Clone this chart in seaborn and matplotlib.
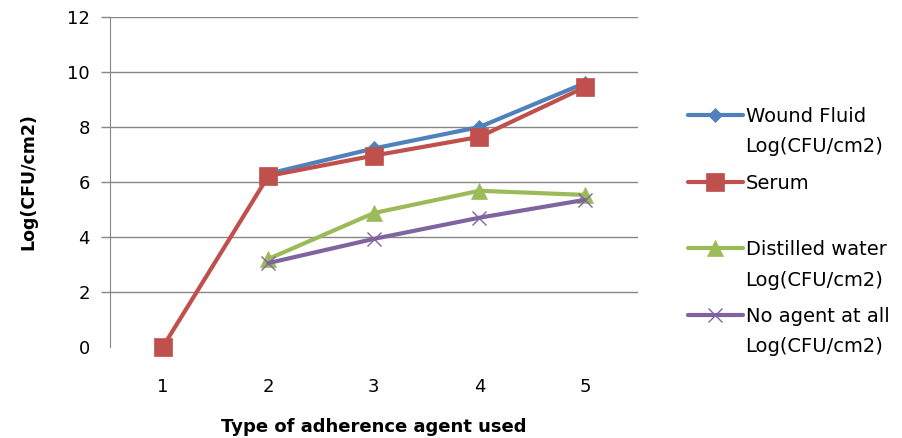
import numpy as np
import pandas as pd
import matplotlib
matplotlib.use("Agg")
import matplotlib.pyplot as plt
import seaborn as sns

# ------- DATA ----------------------------------
agent_type = [1, 2, 3, 4, 5]
wound_fluid = [np.nan, 6.3, 7.22, 8.0, 9.6]
serum = [0.0, 6.22, 6.96, 7.64, 9.45]
distilled_water = [np.nan, 3.2, 4.87, 5.68, 5.53]
no_agent = [np.nan, 3.05, 3.93, 4.7, 5.35]

series_names = ["Wound Fluid\nLog(CFU/cm2)", "Serum\n ",
                "Distilled water\nLog(CFU/cm2)", "No agent at all\nLog(CFU/cm2)"]
series_values = [wound_fluid, serum, distilled_water, no_agent]
y_ticks = [0, 2, 4, 6, 8, 10, 12]

# ------- STYLE ---------
sns.set_style("white", {"text.color": "black", "axes.labelcolor": "black",
                        "xtick.color": "black", "ytick.color": "black"})
plt.rcParams['font.family'] = ['DejaVu Sans']

colors = ["#4F81BD", "#C0504D", "#9BBB59", "#8064A2"]
markers = ["D", "s", "^", "x"]
msizes = [7, 13, 11, 10]
grey = "#868686"

df = pd.DataFrame({
    "agent": agent_type * len(series_names),
    "value": sum(series_values, []),
    "series": sum([[n] * len(agent_type) for n in series_names], []),
})

fig = plt.figure(figsize=(9.02, 4.38), dpi=100)
ax = fig.add_axes([0.122, 0.208, 0.585, 0.753])

for name, c, m, ms in zip(series_names, colors, markers, msizes):
    sub = df[df["series"] == name].dropna()
    sns.lineplot(data=sub, x="agent", y="value", ax=ax, color=c, marker=m,
                 markersize=ms, linewidth=3, markeredgecolor=c,
                 markeredgewidth=1 if m == "x" else 0.5, label=name,
                 clip_on=False)

ax.set_xlim(0.5, 5.5)
ax.set_ylim(0, 12)
ax.set_yticks(y_ticks)
ax.set_xticks(agent_type)
ax.yaxis.grid(True, color=grey, linewidth=1)
ax.set_axisbelow(True)
for s in ["top", "right", "bottom"]:
    ax.spines[s].set_visible(False)
ax.spines["left"].set_color(grey)
ax.tick_params(axis="y", left=True, length=6.5, color=grey, width=1,
               labelsize=13, labelcolor="black", pad=8)
ax.tick_params(axis="x", bottom=False, labelsize=13, labelcolor="black", pad=19)

# no gridline / tick mark at zero, like the original
zero_tick = ax.yaxis.get_major_ticks()[0]
zero_tick.gridline.set_visible(False)
zero_tick.tick1line.set_visible(False)

ax.set_xlabel("Type of adherence agent used", fontsize=13, fontweight="bold",
              labelpad=16, color="black")
ax.set_ylabel("Log(CFU/cm2)", fontsize=12.5, fontweight="bold", labelpad=21,
              color="black")

# legend: handle sits next to the first line of each label
leg = ax.legend(loc="upper left", bbox_to_anchor=(0.763, 0.756),
                bbox_transform=fig.transFigure, frameon=False,
                fontsize=14, labelspacing=0.9, handlelength=2.8,
                handletextpad=0.15, borderpad=0, borderaxespad=0,
                handleheight=1.1, labelcolor="black")
for t in leg.get_texts():
    t.set_linespacing(1.75)
for col in leg._legend_handle_box.get_children():
    for item in col.get_children():
        item.align = "top"

fig.savefig("out.png", dpi=100)
